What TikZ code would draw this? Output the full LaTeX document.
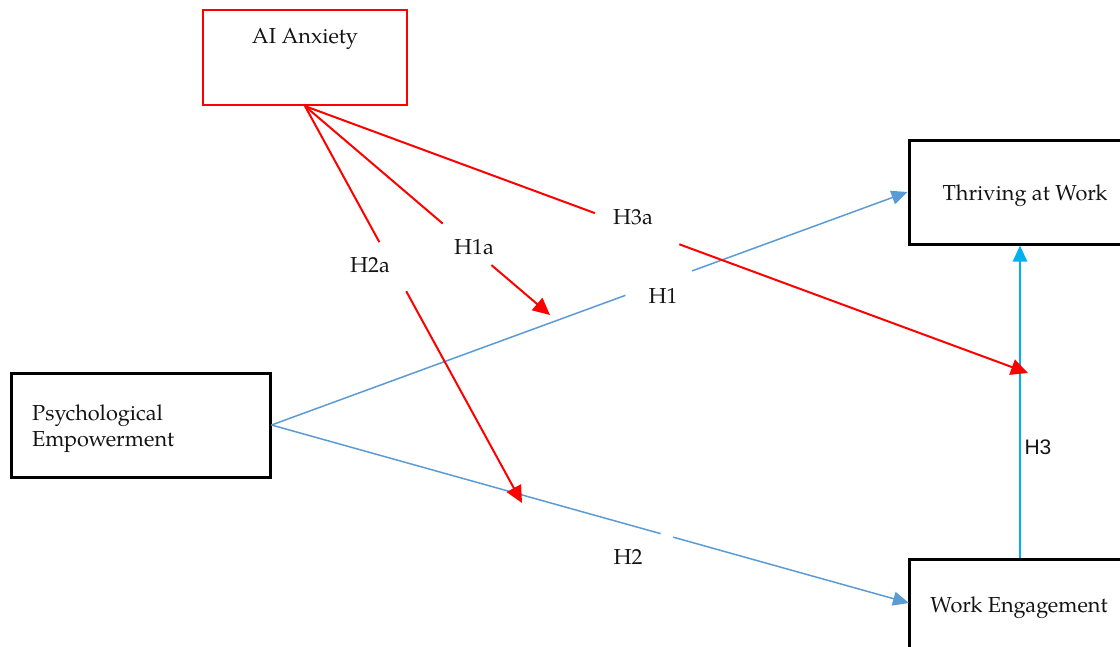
\documentclass[tikz,border=0pt]{standalone}
\usepackage{fontspec}
\setmainfont{TeX Gyre Pagella}
\newfontfamily\sansH{Liberation Sans}
\usetikzlibrary{arrows.meta}
\definecolor{redline}{HTML}{FF0000}
\definecolor{blueline}{HTML}{5B9BD5}
\definecolor{cyanline}{HTML}{00B0F0}
\definecolor{txtcol}{HTML}{141414}
\tikzset{
  blackbox/.style={draw=black, line width=3pt, inner sep=0pt},
  redbox/.style={draw=redline, line width=2.2pt, inner sep=0pt},
  txt/.style={font=\fontsize{21.7}{26}\selectfont, text=txtcol, inner sep=0pt},
  sanstxt/.style={font=\sansH\fontsize{21}{24}\selectfont, text=txtcol, inner sep=0pt},
  tipred/.style={-{Triangle[length=17pt,width=16pt]}},
  tipblue/.style={-{Triangle[length=16pt,width=14pt]}},
  redconn/.style={draw=redline, line width=2pt, tipred},
  blueconn/.style={draw=blueline, line width=1.5pt, tipblue},
  cyanconn/.style={draw=cyanline, line width=2.4pt, tipblue},
}
\begin{document}
\begin{tikzpicture}[x=1pt,y=-1pt]
\useasboundingbox (0,0) rectangle (1120,646);

% boxes
\node[redbox, minimum width=204pt, minimum height=95pt] (AI) at (305,57.5) {};
\node[blackbox, minimum width=259pt, minimum height=104pt] (PE) at (140.5,425) {};
\node[blackbox, minimum width=222pt, minimum height=104pt] (TW) at (1020,192) {};
\node[blackbox, minimum width=222pt, minimum height=104pt] (WE) at (1020,611) {};

% box texts
\node[txt] (AIt) at (305,39) {AI Anxiety};
\node[txt, anchor=west, align=left] (PEt) at (32,429) {Psychological\\Empowerment};
\node[txt] (TWt) at (1025,196) {Thriving at Work};
\node[txt] (WEt) at (1019,608) {Work Engagement};

% free ends
\coordinate (H1aEnd) at (550,315);
\coordinate (H2aEnd) at (522,503);
\coordinate (H3aEnd) at (1028,373);
\coordinate (WEin) at (909,603);

% connectors
\draw[blueconn, dash pattern=on 377pt off 71pt on 2000pt] (PE.east) -- (TW.west);
\draw[blueconn, dash pattern=on 404pt off 13pt on 2000pt] (PE.east) -- (WEin);
\draw[cyanconn] (WE.north) -- (TW.south);
\draw[redconn, dash pattern=on 181pt off 64pt on 2000pt] (AI.south) -- (H1aEnd);
\draw[redconn, dash pattern=on 155pt off 56pt on 2000pt] (AI.south) -- (H2aEnd);
\draw[redconn, dash pattern=on 309pt off 90pt on 2000pt] (AI.south) -- (H3aEnd);

% labels
\node[txt] (L1a) at (474,247) {H1a};
\node[txt] (L2a) at (370,265) {H2a};
\node[txt] (L3a) at (633,217) {H3a};
\node[txt] (L1) at (663,296) {H1};
\node[txt] (L2) at (628,557) {H2};
\node[sanstxt] (L3) at (1038,447) {H3};
\end{tikzpicture}
\end{document}
